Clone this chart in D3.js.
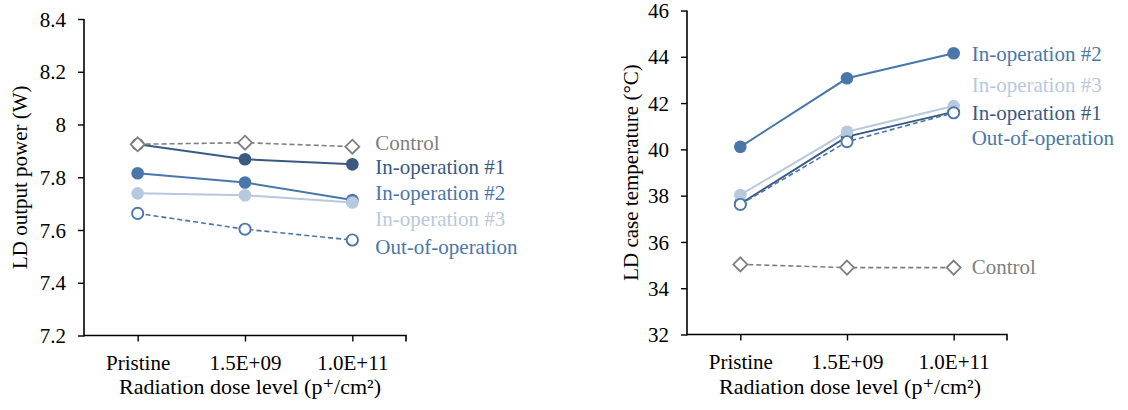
<!DOCTYPE html>
<html>
<head>
<meta charset="utf-8">
<script src="https://cdn.jsdelivr.net/npm/d3@7"></script>
<style>
  html, body { margin: 0; padding: 0; background: #fff; }
  svg, svg text { font-family: "Liberation Serif", "Times New Roman", Times, "Nimbus Roman", "DejaVu Serif", serif !important; }
</style>
</head>
<body>
<svg id="chart" width="1128" height="410"></svg>
<script>
// ---------- data ----------
const categories = ["Pristine", "1.5E+09", "1.0E+11"];
const seriesNames = ["Control", "In-operation #1", "In-operation #2", "In-operation #3", "Out-of-operation"];

const powerControl = [7.925, 7.931, 7.916];
const powerInOp1   = [7.925, 7.868, 7.849];
const powerInOp2   = [7.815, 7.780, 7.714];
const powerInOp3   = [7.739, 7.732, 7.704];
const powerOutOp   = [7.663, 7.603, 7.562];
const powerTicks   = [7.2, 7.4, 7.6, 7.8, 8, 8.2, 8.4];

const tempControl = [35.03, 34.89, 34.89];
const tempInOp1   = [37.65, 40.55, 41.62];
const tempInOp2   = [40.11, 43.07, 44.15];
const tempInOp3   = [38.03, 40.76, 41.87];
const tempOutOp   = [37.62, 40.33, 41.58];
const tempTicks   = [32, 34, 36, 38, 40, 42, 44, 46];

const xTitle = "Radiation dose level (p\u207A/cm\u00B2)";

// ---------- styles ----------
const FONT = '"Liberation Serif", "Times New Roman", Times, "Nimbus Roman", "DejaVu Serif", serif';
const styles = {
  "Control":          { color: "#7f7f7f", dash: "5,3", width: 1.6, marker: "diamond" },
  "In-operation #1":  { color: "#3a5a82", dash: null,  width: 2,   marker: "filled" },
  "In-operation #2":  { color: "#4a77aa", dash: null,  width: 2,   marker: "filled" },
  "In-operation #3":  { color: "#b7c9de", dash: null,  width: 2,   marker: "filled" },
  "Out-of-operation": { color: "#4a77aa", dash: "5,3", width: 1.6, marker: "open" }
};

const svg = d3.select("#chart");

function drawChart(cfg) {
  const g = svg.append("g").attr("font-family", FONT);
  const x = d3.scalePoint().domain(categories).range([cfg.left, cfg.right]).padding(0.5);
  const y = d3.scaleLinear().domain(cfg.domain).range([cfg.bottom, cfg.top]);

  // y axis
  const ya = g.append("g").attr("transform", `translate(${cfg.left},0)`)
    .call(d3.axisLeft(y).tickValues(cfg.ticks).tickSize(6).tickSizeOuter(0).tickPadding(12)
      .tickFormat(d => String(+d.toFixed(1))));
  ya.attr("font-family", FONT);
  ya.select(".domain").attr("stroke", "#000").attr("stroke-width", 1.6)
    .attr("d", `M0,${cfg.top}V${cfg.bottom + 1}`);
  ya.selectAll(".tick line").attr("stroke", "#000").attr("stroke-width", 1.4);
  ya.selectAll(".tick text").attr("font-size", 21).attr("fill", "#000").attr("dy", "0.34em");

  // x axis
  const xa = g.append("g").attr("transform", `translate(0,${cfg.bottom})`)
    .call(d3.axisBottom(x).tickSize(6).tickSizeOuter(0).tickPadding(0));
  xa.attr("font-family", FONT);
  xa.select(".domain").attr("stroke", "#000").attr("stroke-width", 1.6)
    .attr("d", `M${cfg.left},0H${cfg.right}V6`);
  xa.selectAll(".tick line").attr("stroke", "#000").attr("stroke-width", 1.4);
  xa.selectAll(".tick text").attr("font-size", 21).attr("fill", "#000")
    .attr("y", 34.5).attr("dy", 0);

  // axis titles
  g.append("text").attr("x", cfg.xTitleX).attr("y", 394)
    .attr("text-anchor", "middle").attr("font-size", 22).attr("fill", "#000")
    .text(xTitle);
  g.append("text")
    .attr("transform", `translate(${cfg.yTitleX},${(cfg.top + cfg.bottom) / 2}) rotate(-90)`)
    .attr("text-anchor", "middle").attr("font-size", 21).attr("fill", "#000")
    .text(cfg.yTitle);

  const line = d3.line().x((d, i) => x(categories[i])).y(d => y(d));

  cfg.order.forEach(name => {
    const vals = cfg.series[name];
    const st = styles[name];
    g.append("path").datum(vals).attr("d", line)
      .attr("fill", "none").attr("stroke", st.color).attr("stroke-width", st.width)
      .attr("stroke-dasharray", st.dash);
    const mg = g.append("g");
    vals.forEach((v, i) => {
      const cx = x(categories[i]), cy = y(v);
      if (st.marker === "filled") {
        mg.append("circle").attr("cx", cx).attr("cy", cy).attr("r", 6.3).attr("fill", st.color);
      } else if (st.marker === "open") {
        mg.append("circle").attr("cx", cx).attr("cy", cy).attr("r", 5.6)
          .attr("fill", "#fff").attr("stroke", st.color).attr("stroke-width", 1.9);
      } else {
        const s = 7;
        mg.append("path").attr("d", `M${cx},${cy - s}L${cx + s},${cy}L${cx},${cy + s}L${cx - s},${cy}Z`)
          .attr("fill", "#fff").attr("stroke", st.color).attr("stroke-width", 1.8);
      }
    });
  });

  // series labels
  seriesNames.forEach(name => {
    const vals = cfg.series[name];
    const lx = x(categories[categories.length - 1]) + cfg.labelGap;
    const ly = y(vals[vals.length - 1]) + cfg.labelDy[name];
    g.append("text").attr("x", lx).attr("y", ly).attr("dy", "0.35em")
      .attr("font-size", 21).attr("fill", styles[name].color).text(name);
  });
}

drawChart({
  left: 84, right: 406, top: 19, bottom: 335.5,
  domain: [7.2, 8.4], ticks: powerTicks,
  yTitle: "LD output power (W)", yTitleX: 27, xTitleX: 250,
  series: {
    "Control": powerControl, "In-operation #1": powerInOp1, "In-operation #2": powerInOp2,
    "In-operation #3": powerInOp3, "Out-of-operation": powerOutOp
  },
  order: ["In-operation #1", "In-operation #2", "In-operation #3", "Out-of-operation", "Control"],
  labelGap: 23,
  labelDy: { "Control": -4, "In-operation #1": 2.4, "In-operation #2": -7, "In-operation #3": 15.6, "Out-of-operation": 6.7 }
});

drawChart({
  left: 687, right: 1007, top: 10.5, bottom: 334.5,
  domain: [32, 46], ticks: tempTicks,
  yTitle: "LD case temperature (\u00B0C)", yTitleX: 638, xTitleX: 850,
  series: {
    "Control": tempControl, "In-operation #1": tempInOp1, "In-operation #2": tempInOp2,
    "In-operation #3": tempInOp3, "Out-of-operation": tempOutOp
  },
  order: ["In-operation #2", "In-operation #1", "In-operation #3", "Out-of-operation", "Control"],
  labelGap: 18,
  labelDy: { "Control": -1, "In-operation #1": 1, "In-operation #2": 0, "In-operation #3": -21, "Out-of-operation": 24.6 }
});
</script>
</body>
</html>
